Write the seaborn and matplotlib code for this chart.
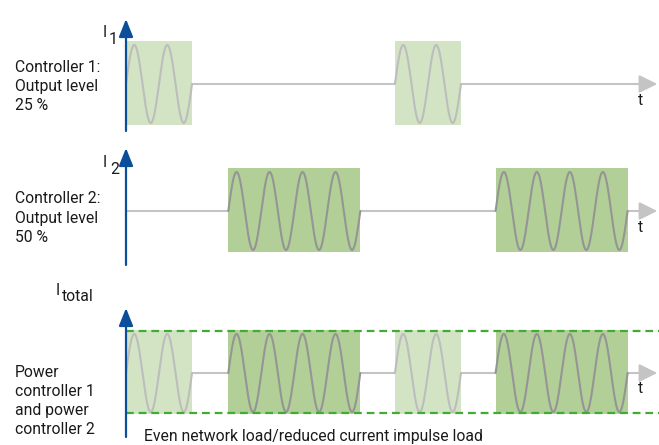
"""Switching pattern of two power controllers and the resulting total current."""

import numpy as np
import pandas as pd
import seaborn as sns
import matplotlib.pyplot as plt

# Mains period (ms) and length of the time axis (ms)
period_ms = 20
t_end = 322

# Switching blocks: start time (ms) and length in full mains periods
ctrl1_starts = [0, 163]
ctrl1_periods = [2, 2]
ctrl2_starts = [62, 224]
ctrl2_periods = [4, 4]

panel_labels = [['Controller 1:', 'Output level', '25 %'],
                ['Controller 2:', 'Output level', '50 %'],
                ['Power', 'controller 1', 'and power', 'controller 2']]
current_names = [('I', '1'), ('I', '2'), ('I', 'total')]
footer = 'Even network load/reduced current impulse load'

###################################################################################################

W, H = 659, 445
PX_X = 1.65          # pixels per ms
PX_Y = 39.0          # pixels per unit of current
X0 = 126             # pixel column of t = 0

LIGHT = '#d3e4c5'
DARK = '#b2cf98'
WAVE_LIGHT = '#bdbdbd'
WAVE_DARK = '#959595'
BASE = '#c4c4c4'
BLUE = '#0b4e9a'
DASH = '#41ab36'
TXT = '#1a1a1a'
FS = 11.3

# panel bands: top, bottom, baseline, axis tip, axis foot (pixels)
bands = [(0, 140, 84, 19, 131),
         (140, 280, 211, 148, 265),
         (280, 445, 373, 308, 437)]
label_rows = [[72, 91, 110], [203, 223, 242], [377, 396, 415, 434]]
name_pos = [(103, 37, 109, 44), (103, 167, 110, 174), (56, 295, 62, 301)]
t_rows = [105, 232, 393]


def waves(starts, periods, name):
    """Build sine samples for each switched-on block."""
    frames = []
    for k, (s, n) in enumerate(zip(starts, periods)):
        t = np.linspace(s, s + n * period_ms, 80 * n)
        frames.append(pd.DataFrame({'t': t,
                                    'i': np.sin(2 * np.pi * (t - s) / period_ms),
                                    'block': f'{name}{k}'}))
    return pd.concat(frames, ignore_index=True)


def draw_blocks(ax, starts, periods, face, wave_color, name):
    for s, n in zip(starts, periods):
        ax.fill_between([s, s + n * period_ms], -1.05, 1.1, color=face, lw=0, zorder=2)
    sns.lineplot(data=waves(starts, periods, name), x='t', y='i', units='block',
                 estimator=None, color=wave_color, lw=1.5, ax=ax, zorder=3, legend=False)


def fx(px):
    return px / W


def fy(py):
    return 1 - py / H


sns.set_theme(style='white')
plt.rcParams['font.family'] = ['Roboto', 'DejaVu Sans']

fig = plt.figure(figsize=(W / 100, H / 100), dpi=100)

for p, (top, bot, base, tip, foot) in enumerate(bands):
    ax = fig.add_axes([0, fy(bot), 1, (bot - top) / H])
    ax.set_xlim(-X0 / PX_X, (W - X0) / PX_X)
    ax.set_ylim((base - bot) / PX_Y, (base - top) / PX_Y)
    ax.set_axis_off()

    # time axis
    ax.annotate('', xy=(t_end, 0), xytext=(0, 0), zorder=1,
                arrowprops=dict(arrowstyle='-|>,head_length=0.85,head_width=0.42',
                                mutation_scale=13, color=BASE, lw=1.5,
                                shrinkA=0, shrinkB=0))

    if p in (0, 2):
        draw_blocks(ax, ctrl1_starts, ctrl1_periods, LIGHT, WAVE_LIGHT, 'c1')
    if p in (1, 2):
        draw_blocks(ax, ctrl2_starts, ctrl2_periods, DARK, WAVE_DARK, 'c2')

    if p == 2:
        for lvl in (1.08, -1.03):
            ax.hlines(lvl, 0, (W - X0) / PX_X, colors=DASH, lw=1.6,
                      linestyles=(0, (3.5, 2.2)), zorder=4)

    # current axis
    ax.annotate('', xy=(0, (base - tip) / PX_Y), xytext=(0, (base - foot) / PX_Y), zorder=5,
                arrowprops=dict(arrowstyle='-|>,head_length=0.9,head_width=0.36',
                                mutation_scale=12, color=BLUE, lw=1.6,
                                shrinkA=0, shrinkB=0))
    ax.set_xlabel('')
    ax.set_ylabel('')

    # texts
    for line, row in zip(panel_labels[p], label_rows[p]):
        fig.text(fx(15), fy(row), line, fontsize=FS, color=TXT, va='baseline')
    ix, iy, sx, sy = name_pos[p]
    fig.text(fx(ix), fy(iy), current_names[p][0], fontsize=FS, color=TXT, va='baseline')
    fig.text(fx(sx), fy(sy), current_names[p][1], fontsize=FS, color=TXT, va='baseline')
    fig.text(fx(640), fy(t_rows[p]), 't', fontsize=FS, color=TXT, va='baseline',
             ha='center')

fig.text(fx(144), fy(441), footer, fontsize=FS, color=TXT, va='baseline')

fig.savefig('out.png', dpi=100)
